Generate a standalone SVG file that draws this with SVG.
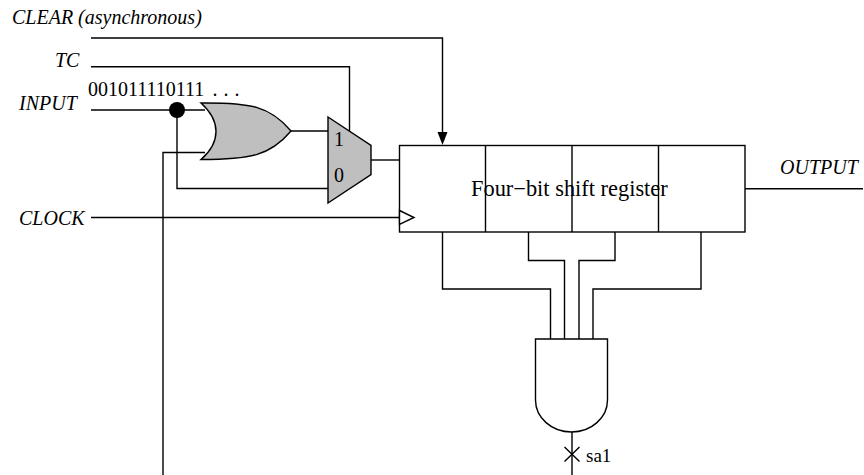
<svg xmlns="http://www.w3.org/2000/svg" width="864" height="475" viewBox="0 0 864 475">
<style>
.w{fill:none;stroke:#000;stroke-width:1.4}
.g{fill:#bfbfbf;stroke:#000;stroke-width:1.4}
.b{fill:#fff;stroke:#000;stroke-width:1.4}
text{font-family:"Liberation Serif","Times New Roman",serif;font-size:20px;fill:#000}
.i{font-style:italic}
</style>
<rect width="864" height="475" fill="#fff"/>
<g id="connectors">
<path class="w" d="M91 38H442.500V135"/>
<path class="w" d="M91 66.700H349.500V131"/>
<path class="w" d="M91 110H205"/>
<path class="w" d="M177 110V188.500H328"/>
<path class="w" d="M163 475V152.500H205"/>
<path class="w" d="M291 131H328"/>
<path class="w" d="M371 160H399.500"/>
<path class="w" d="M91 217.500H399.500"/>
<path class="w" d="M745 188.700H863"/>
<path class="w" d="M442.500 232V289H550.500V339"/>
<path class="w" d="M528.500 232V260.500H564.500V339"/>
<path class="w" d="M615 232V260.500H579V339"/>
<path class="w" d="M701 232V289H593V339"/>
<path class="w" d="M572 432V475"/>
<path class="w" d="M564.500 447L579.500 461.500M579.500 447L564.500 461.500"/>
<polygon points="437.500,132 447.500,132 442.500,145" fill="#000"/>
<circle cx="177" cy="110" r="8" fill="#000"/>
</g>
<g id="or-gate">
<path class="g" d="M201 103C250 102.500 270 106 291 131C270 156 250 159.500 201 159.500C221 142 221 121 201 103Z"/>
</g>
<g id="mux">
<polygon class="g" points="328,117 371,145.500 371,174.500 328,203"/>
<text x="334" y="146">1</text>
<text x="334" y="182">0</text>
</g>
<g id="register">
<rect class="b" x="399.500" y="145.500" width="345.500" height="86.500"/>
<path class="w" d="M485.500 145.500V232M572 145.500V232M658.500 145.500V232"/>
<polygon class="b" points="399.500,210.500 414,217.500 399.500,224.500"/>
<text x="471" y="196" style="font-size:22.400px">Four−bit shift register</text>
</g>
<g id="and-gate">
<path class="b" d="M535.500 339H607.500V400A36 32 0 0 1 535.500 400Z"/>
</g>
<g id="labels">
<text class="i" x="12" y="24">CLEAR (asynchronous)</text>
<text class="i" x="55" y="67">TC</text>
<text class="i" x="19" y="110">INPUT</text>
<text class="i" x="19" y="225">CLOCK</text>
<text class="i" x="780" y="174">OUTPUT</text>
<text x="88" y="96">001011110111<tspan x="212.500" style="word-spacing:1px">. . .</tspan></text>
<text x="586" y="461.500" style="font-size:19px">sa1</text>
</g>
</svg>
